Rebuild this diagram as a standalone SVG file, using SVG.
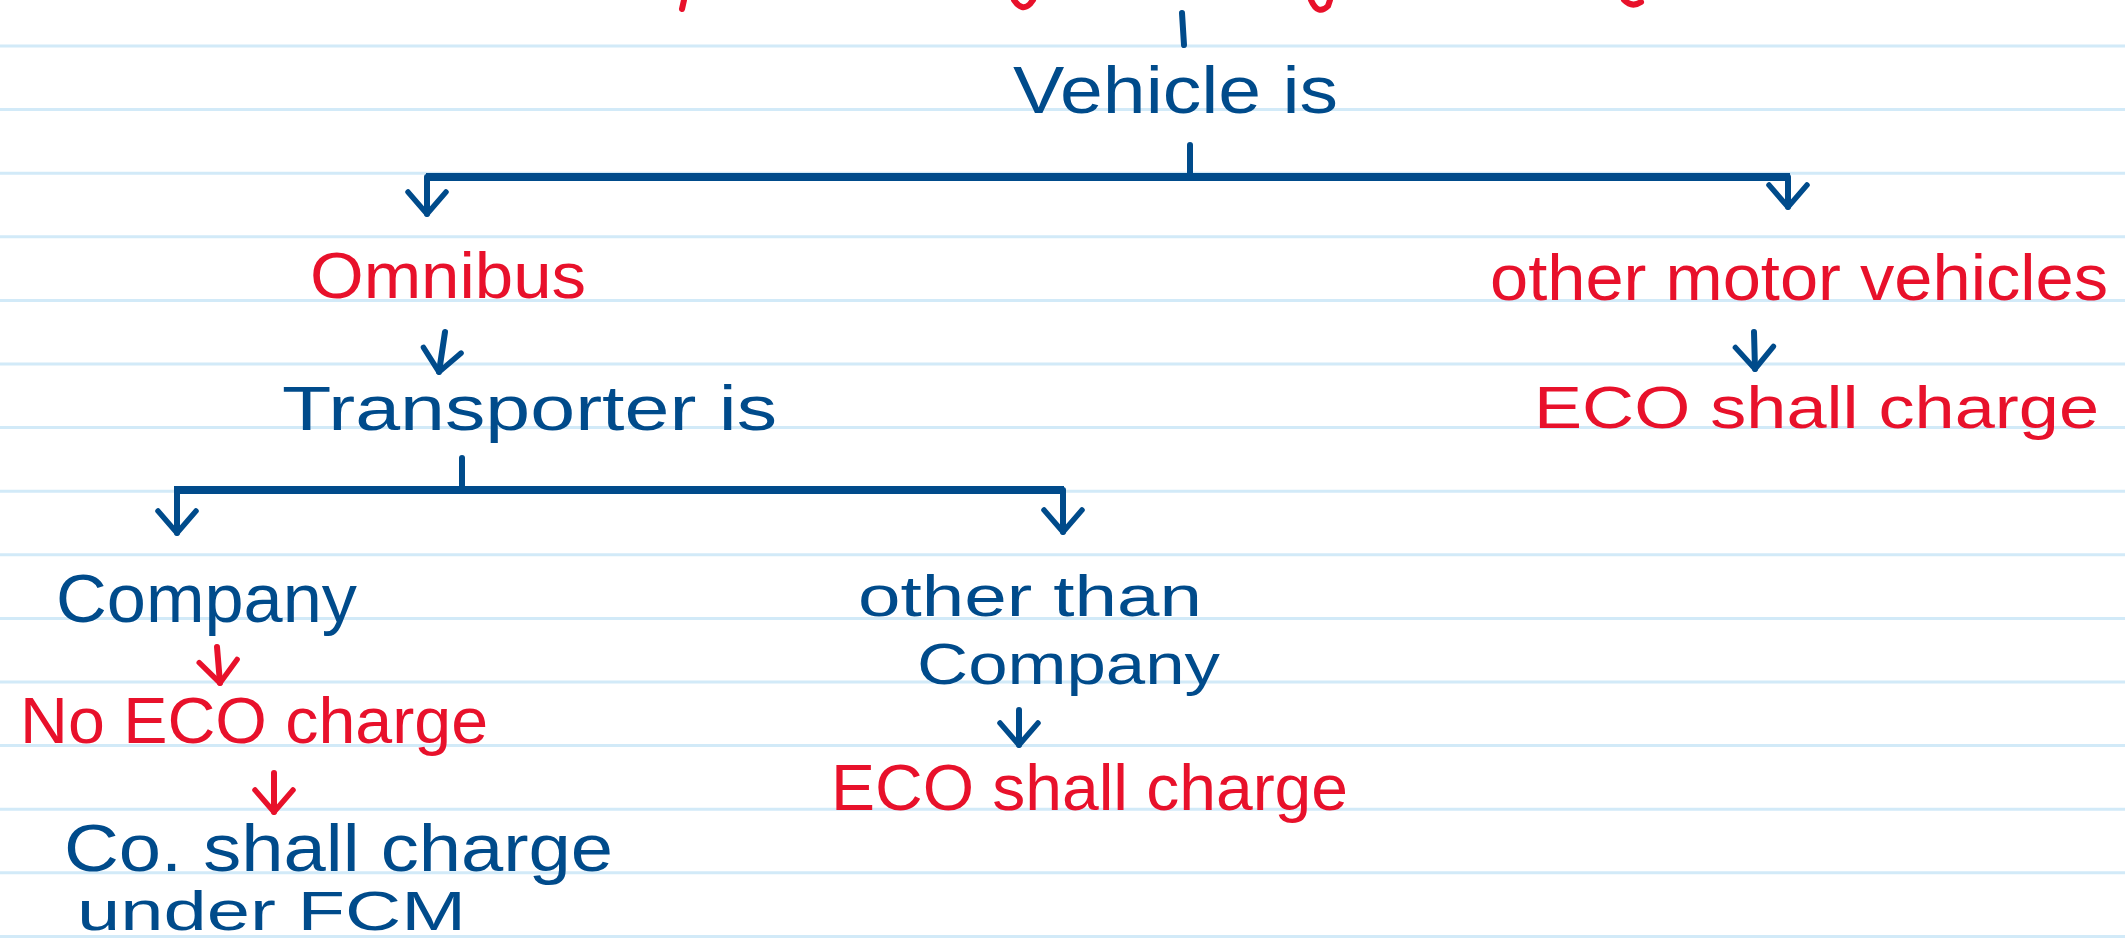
<svg xmlns="http://www.w3.org/2000/svg" width="2125" height="943" viewBox="0 0 2125 943">
<style>
.rule{stroke:#d2eaf8;stroke-width:3;fill:none}
.b{fill:#004b8b;font-family:"Liberation Sans","DejaVu Sans",sans-serif}
.r{fill:#e8112b;font-family:"Liberation Sans","DejaVu Sans",sans-serif}
.cb{stroke:#004b8b;stroke-width:6;fill:none;stroke-linecap:round;stroke-linejoin:round}
.cr{stroke:#e8112b;stroke-width:6;fill:none;stroke-linecap:round;stroke-linejoin:round}
.bar{stroke:#004b8b;stroke-width:8;fill:none;stroke-linecap:butt}
</style>
<defs>
<marker id="ab" viewBox="-30 -25 36 50" refX="0" refY="0" markerWidth="36" markerHeight="50" markerUnits="userSpaceOnUse" orient="auto">
<path d="M-22,-19 L0,0 L-22,19" fill="none" stroke="#004b8b" stroke-width="5.5" stroke-linecap="round" stroke-linejoin="round"/>
</marker>
<marker id="ar" viewBox="-30 -25 36 50" refX="0" refY="0" markerWidth="36" markerHeight="50" markerUnits="userSpaceOnUse" orient="auto">
<path d="M-22,-19 L0,0 L-22,19" fill="none" stroke="#e8112b" stroke-width="5.5" stroke-linecap="round" stroke-linejoin="round"/>
</marker>
</defs>
<rect x="0" y="0" width="2125" height="943" fill="#ffffff"/>
<g id="ruled-lines">
<line class="rule" x1="0" y1="46" x2="2125" y2="46"/>
<line class="rule" x1="0" y1="109.6" x2="2125" y2="109.6"/>
<line class="rule" x1="0" y1="173.2" x2="2125" y2="173.2"/>
<line class="rule" x1="0" y1="236.8" x2="2125" y2="236.8"/>
<line class="rule" x1="0" y1="300.4" x2="2125" y2="300.4"/>
<line class="rule" x1="0" y1="364" x2="2125" y2="364"/>
<line class="rule" x1="0" y1="427.6" x2="2125" y2="427.6"/>
<line class="rule" x1="0" y1="491.2" x2="2125" y2="491.2"/>
<line class="rule" x1="0" y1="554.8" x2="2125" y2="554.8"/>
<line class="rule" x1="0" y1="618.4" x2="2125" y2="618.4"/>
<line class="rule" x1="0" y1="682" x2="2125" y2="682"/>
<line class="rule" x1="0" y1="745.6" x2="2125" y2="745.6"/>
<line class="rule" x1="0" y1="809.2" x2="2125" y2="809.2"/>
<line class="rule" x1="0" y1="872.8" x2="2125" y2="872.8"/>
<line class="rule" x1="0" y1="936.4" x2="2125" y2="936.4"/>
</g>
<g id="top-fragments">
<path class="cr" d="M684,0 L682,9"/>
<path class="cr" d="M1014,0 Q1022,12 1030,4 L1033,0"/>
<path class="cr" d="M1311,0 Q1318,16 1328,6 L1330,0"/>
<path class="cr" d="M1624,0 Q1632,8 1641,2"/>
</g>
<g id="connectors">
<path class="cb" d="M1182,13 L1184,45"/>
<path class="cb" d="M1190,145 L1190,176"/>
<path class="bar" d="M426,177 L1790,177"/>
<path class="cb" d="M427,177 L427,214" marker-end="url(#ab)"/>
<path class="cb" d="M1788,177 L1788,207" marker-end="url(#ab)"/>
<path class="cb" d="M445,332 L439,372" marker-end="url(#ab)"/>
<path class="cb" d="M462,458 L462,489"/>
<path class="bar" d="M174,490 L1064,490"/>
<path class="cb" d="M177,490 L177,533" marker-end="url(#ab)"/>
<path class="cb" d="M1063,490 L1063,532" marker-end="url(#ab)"/>
<path class="cr" d="M217,647 L220,683" marker-end="url(#ar)"/>
<path class="cr" d="M274,773 L274,812" marker-end="url(#ar)"/>
<path class="cb" d="M1019,710 L1019,745" marker-end="url(#ab)"/>
<path class="cb" d="M1754,332 L1755,369" marker-end="url(#ab)"/>
</g>
<g id="vehicle-is"><text class="b" x="1013" y="113" font-size="66" textLength="325" lengthAdjust="spacingAndGlyphs">Vehicle is</text></g>
<g id="omnibus"><text class="r" x="310" y="298" font-size="64" textLength="276" lengthAdjust="spacingAndGlyphs">Omnibus</text></g>
<g id="other-motor-vehicles"><text class="r" x="1490" y="300" font-size="64" textLength="618" lengthAdjust="spacingAndGlyphs">other motor vehicles</text></g>
<g id="eco-shall-charge-right"><text class="r" x="1534" y="428" font-size="60" textLength="565" lengthAdjust="spacingAndGlyphs">ECO shall charge</text></g>
<g id="transporter-is"><text class="b" x="282" y="430" font-size="63" textLength="495" lengthAdjust="spacingAndGlyphs">Transporter is</text></g>
<g id="company"><text class="b" x="56" y="622" font-size="68" textLength="301" lengthAdjust="spacingAndGlyphs">Company</text></g>
<g id="no-eco-charge"><text class="r" x="20" y="743" font-size="64" textLength="468" lengthAdjust="spacingAndGlyphs">No ECO charge</text></g>
<g id="co-shall-charge">
<text class="b" x="64" y="871" font-size="66" textLength="549" lengthAdjust="spacingAndGlyphs">Co. shall charge</text>
<text class="b" x="77" y="930" font-size="56" textLength="389" lengthAdjust="spacingAndGlyphs">under FCM</text>
</g>
<g id="other-than-company">
<text class="b" x="858" y="616" font-size="58" textLength="344" lengthAdjust="spacingAndGlyphs">other than</text>
<text class="b" x="917" y="684" font-size="58" textLength="303" lengthAdjust="spacingAndGlyphs">Company</text>
</g>
<g id="eco-shall-charge-mid"><text class="r" x="831" y="810" font-size="64" textLength="517" lengthAdjust="spacingAndGlyphs">ECO shall charge</text></g>
</svg>
